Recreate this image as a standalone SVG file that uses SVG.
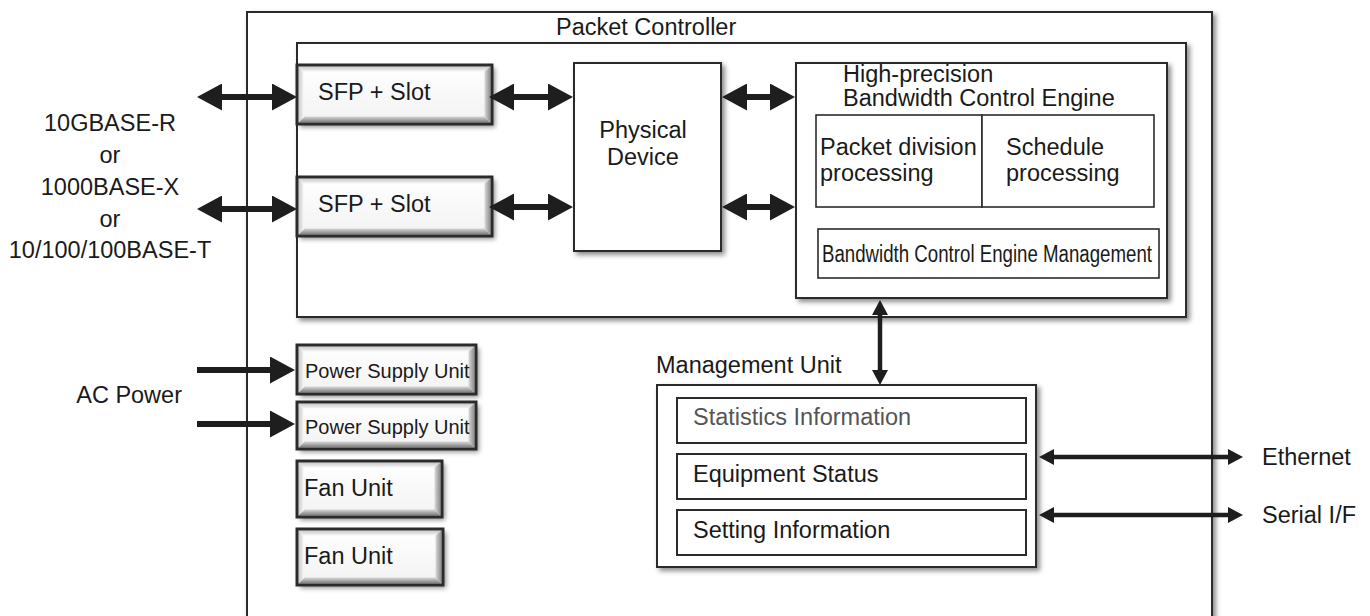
<svg xmlns="http://www.w3.org/2000/svg" width="1370" height="616" viewBox="0 0 1370 616">
<style>
.t{font-family:"Liberation Sans",Arial,sans-serif;font-size:23.5px;fill:#1a1a1a}
.s{font-size:20px}
.g{fill:#555}
.frame{fill:#fff;stroke:#2b2b2b;stroke-width:2}
.thin{fill:#fff;stroke:#2b2b2b;stroke-width:1.6}
.bord{fill:none;stroke:#2b2b2b;stroke-width:3}
.bt{fill:url(#gTop)}
.bb{fill:url(#gBot)}
.bl{fill:url(#gLeft)}
.br{fill:url(#gRight)}
.big{stroke:#1e1e1e;stroke-width:6;fill:none}
.sm{stroke:#1e1e1e;stroke-width:4.5;fill:none}
</style>
<defs>
<filter id="sh" x="-10%" y="-10%" width="130%" height="130%">
<feDropShadow dx="3" dy="3" stdDeviation="2.5" flood-color="#000" flood-opacity="0.45"/>
</filter>
<linearGradient id="gTop" x1="0" y1="0" x2="0" y2="1"><stop offset="0" stop-color="#c8c8c8"/><stop offset="1" stop-color="#f6f6f6"/></linearGradient>
<linearGradient id="gBot" x1="0" y1="0" x2="0" y2="1"><stop offset="0" stop-color="#d8d8d8"/><stop offset="1" stop-color="#7a7a7a"/></linearGradient>
<linearGradient id="gLeft" x1="0" y1="0" x2="1" y2="0"><stop offset="0" stop-color="#c8c8c8"/><stop offset="1" stop-color="#f4f4f4"/></linearGradient>
<linearGradient id="gRight" x1="0" y1="0" x2="1" y2="0"><stop offset="0" stop-color="#dadada"/><stop offset="1" stop-color="#8a8a8a"/></linearGradient>
<linearGradient id="gFace" x1="0" y1="0" x2="0" y2="1"><stop offset="0" stop-color="#ffffff"/><stop offset="1" stop-color="#f2f2f2"/></linearGradient>
<marker id="hb" viewBox="0 0 25 27" markerWidth="25" markerHeight="27" refX="2" refY="13.5" orient="auto-start-reverse" markerUnits="userSpaceOnUse"><path d="M0,0 L25,13.5 L0,27 Z" fill="#1e1e1e"/></marker>
<marker id="hs" viewBox="0 0 15 16" markerWidth="15" markerHeight="16" refX="2" refY="8" orient="auto-start-reverse" markerUnits="userSpaceOnUse"><path d="M0,0 L15,8 L0,16 Z" fill="#1e1e1e"/></marker>
</defs>

<rect width="1370" height="616" fill="#fff"/>

<g id="outer">
<rect class="frame" x="247" y="12" width="965" height="630" filter="url(#sh)"/>
</g>
<g id="packet-controller">
<rect class="frame" x="297" y="43" width="889" height="274" filter="url(#sh)" stroke-width="1.6"/>
<text class="t" x="556" y="35">Packet Controller</text>
</g>

<g id="labels-left">
<text class="t" x="110" y="131" text-anchor="middle">10GBASE-R</text>
<text class="t" x="110" y="163" text-anchor="middle">or</text>
<text class="t" x="110" y="195" text-anchor="middle">1000BASE-X</text>
<text class="t" x="110" y="227" text-anchor="middle">or</text>
<text class="t" x="110" y="258" text-anchor="middle">10/100/100BASE-T</text>
<text class="t" x="182" y="403" text-anchor="end">AC Power</text>
</g>

<g id="sfp1">
<rect x="297" y="65" width="195" height="59" fill="url(#gFace)" filter="url(#sh)"/>
<polygon class="bt" points="298.5,66.5 490.5,66.5 485.5,71.5 303.5,71.5"/>
<polygon class="bb" points="298.5,122.5 490.5,122.5 484.5,116.5 304.5,116.5"/>
<polygon class="bl" points="298.5,66.5 303.5,71.5 303.5,117.5 298.5,122.5"/>
<polygon class="br" points="490.5,66.5 484.5,71.5 484.5,116.5 490.5,122.5"/>
<rect class="bord" x="297" y="65" width="195" height="59"/>
<text class="t" x="318" y="100">SFP + Slot</text>
</g>
<g id="sfp2">
<rect x="297" y="177" width="195" height="59" fill="url(#gFace)" filter="url(#sh)"/>
<polygon class="bt" points="298.5,178.5 490.5,178.5 485.5,183.5 303.5,183.5"/>
<polygon class="bb" points="298.5,234.5 490.5,234.5 484.5,228.5 304.5,228.5"/>
<polygon class="bl" points="298.5,178.5 303.5,183.5 303.5,229.5 298.5,234.5"/>
<polygon class="br" points="490.5,178.5 484.5,183.5 484.5,228.5 490.5,234.5"/>
<rect class="bord" x="297" y="177" width="195" height="59"/>
<text class="t" x="318" y="212">SFP + Slot</text>
</g>

<g id="physical-device">
<rect class="frame" x="574" y="63" width="147" height="188" filter="url(#sh)"/>
<text class="t" x="643" y="138" text-anchor="middle">Physical</text>
<text class="t" x="643" y="165" text-anchor="middle">Device</text>
</g>

<g id="bandwidth-engine">
<rect class="frame" x="796" y="63" width="371" height="235" filter="url(#sh)"/>
<text class="t" x="843" y="82" font-size="22">High-precision</text>
<text class="t" x="843" y="106" font-size="22">Bandwidth Control Engine</text>
</g>
<g id="packet-division">
<rect class="thin" x="816" y="115" width="166" height="92"/>
<text class="t" x="820" y="155">Packet division</text>
<text class="t" x="820" y="181">processing</text>
</g>
<g id="schedule">
<rect class="thin" x="982" y="115" width="172" height="92"/>
<text class="t" x="1006" y="155">Schedule</text>
<text class="t" x="1006" y="181">processing</text>
</g>
<g id="bce-management">
<rect class="thin" x="818" y="229" width="341" height="49"/>
<text class="t" x="822" y="262" font-size="22" textLength="330" lengthAdjust="spacingAndGlyphs">Bandwidth Control Engine Management</text>
</g>

<g id="psu1">
<rect x="297" y="345" width="179" height="49" fill="url(#gFace)" filter="url(#sh)"/>
<polygon class="bt" points="298.5,346.5 474.5,346.5 469.5,351.5 303.5,351.5"/>
<polygon class="bb" points="298.5,392.5 474.5,392.5 468.5,386.5 304.5,386.5"/>
<polygon class="bl" points="298.5,346.5 303.5,351.5 303.5,387.5 298.5,392.5"/>
<polygon class="br" points="474.5,346.5 468.5,351.5 468.5,386.5 474.5,392.5"/>
<rect class="bord" x="297" y="345" width="179" height="49"/>
<text class="t s" x="305" y="378">Power Supply Unit</text>
</g>
<g id="psu2">
<rect x="297" y="402" width="179" height="47" fill="url(#gFace)" filter="url(#sh)"/>
<polygon class="bt" points="298.5,403.5 474.5,403.5 469.5,408.5 303.5,408.5"/>
<polygon class="bb" points="298.5,447.5 474.5,447.5 468.5,441.5 304.5,441.5"/>
<polygon class="bl" points="298.5,403.5 303.5,408.5 303.5,442.5 298.5,447.5"/>
<polygon class="br" points="474.5,403.5 468.5,408.5 468.5,441.5 474.5,447.5"/>
<rect class="bord" x="297" y="402" width="179" height="47"/>
<text class="t s" x="305" y="434">Power Supply Unit</text>
</g>
<g id="fan1">
<rect x="297" y="461" width="145" height="56" fill="url(#gFace)" filter="url(#sh)"/>
<polygon class="bt" points="298.5,462.5 440.5,462.5 435.5,467.5 303.5,467.5"/>
<polygon class="bb" points="298.5,515.5 440.5,515.5 434.5,509.5 304.5,509.5"/>
<polygon class="bl" points="298.5,462.5 303.5,467.5 303.5,510.5 298.5,515.5"/>
<polygon class="br" points="440.5,462.5 434.5,467.5 434.5,509.5 440.5,515.5"/>
<rect class="bord" x="297" y="461" width="145" height="56"/>
<text class="t" x="304" y="496">Fan Unit</text>
</g>
<g id="fan2">
<rect x="297" y="529" width="146" height="56" fill="url(#gFace)" filter="url(#sh)"/>
<polygon class="bt" points="298.5,530.5 441.5,530.5 436.5,535.5 303.5,535.5"/>
<polygon class="bb" points="298.5,583.5 441.5,583.5 435.5,577.5 304.5,577.5"/>
<polygon class="bl" points="298.5,530.5 303.5,535.5 303.5,578.5 298.5,583.5"/>
<polygon class="br" points="441.5,530.5 435.5,535.5 435.5,577.5 441.5,583.5"/>
<rect class="bord" x="297" y="529" width="146" height="56"/>
<text class="t" x="304" y="564">Fan Unit</text>
</g>

<g id="management-unit">
<text class="t" x="656" y="373">Management Unit</text>
<rect class="frame" x="657" y="385" width="379" height="182" filter="url(#sh)"/>
</g>
<g id="statistics">
<rect class="frame" x="677" y="398" width="349" height="45"/>
<text class="t g" x="693" y="425">Statistics Information</text>
</g>
<g id="equipment-status">
<rect class="frame" x="677" y="454" width="349" height="45"/>
<text class="t" x="693" y="482">Equipment Status</text>
</g>
<g id="setting-information">
<rect class="frame" x="677" y="510" width="349" height="45"/>
<text class="t" x="693" y="538">Setting Information</text>
</g>

<g id="labels-right">
<text class="t" x="1262" y="465">Ethernet</text>
<text class="t" x="1262" y="523">Serial I/F</text>
</g>

<g id="connectors">
<line class="big" x1="220" y1="97" x2="274" y2="97" marker-start="url(#hb)" marker-end="url(#hb)"/>
<line class="big" x1="220" y1="209" x2="274" y2="209" marker-start="url(#hb)" marker-end="url(#hb)"/>
<line class="big" x1="512" y1="97" x2="550" y2="97" marker-start="url(#hb)" marker-end="url(#hb)"/>
<line class="big" x1="512" y1="207" x2="550" y2="207" marker-start="url(#hb)" marker-end="url(#hb)"/>
<line class="big" x1="745" y1="97" x2="772" y2="97" marker-start="url(#hb)" marker-end="url(#hb)"/>
<line class="big" x1="745" y1="207" x2="772" y2="207" marker-start="url(#hb)" marker-end="url(#hb)"/>
<line class="big" x1="197" y1="370" x2="272" y2="370" marker-end="url(#hb)"/>
<line class="big" x1="197" y1="424" x2="272" y2="424" marker-end="url(#hb)"/>
<line class="sm" x1="880" y1="313" x2="880" y2="372" marker-start="url(#hs)" marker-end="url(#hs)"/>
<line class="sm" x1="1052" y1="457" x2="1230" y2="457" marker-start="url(#hs)" marker-end="url(#hs)"/>
<line class="sm" x1="1052" y1="515" x2="1230" y2="515" marker-start="url(#hs)" marker-end="url(#hs)"/>
</g>
</svg>
